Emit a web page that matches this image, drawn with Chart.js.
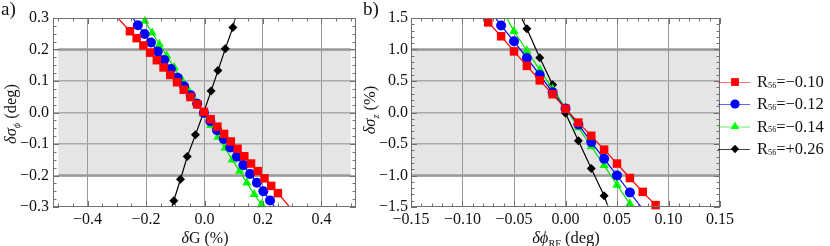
<!DOCTYPE html>
<html><head><meta charset="utf-8">
<script src="https://cdn.jsdelivr.net/npm/chart.js@4.4.1/dist/chart.umd.min.js"></script>
<style>
html,body{margin:0;padding:0;background:#fff;width:830px;height:246px;overflow:hidden;}
#ca{position:absolute;left:0;top:0;}
#cb{position:absolute;left:362px;top:0;}
</style></head><body>
<canvas id="ca" width="362" height="246"></canvas>
<canvas id="cb" width="468" height="246"></canvas>
<script>
// ---------------- DATA ----------------
const seriesNames = ['R₅₆=−0.10', 'R₅₆=−0.12', 'R₅₆=−0.14', 'R₅₆=+0.26'];
const legendValues = ['=−0.10', '=−0.12', '=−0.14', '=+0.26'];

// Panel a) δG (%) vs δσϕ (deg)
const aRedX   = [-0.255,-0.232,-0.209,-0.186,-0.163,-0.140,-0.117,-0.094,-0.071,-0.048,-0.025,-0.002,0.021,0.044,0.067,0.090,0.113,0.136,0.159,0.182,0.205,0.228,0.251];
const aRedY   = [0.258,0.236,0.213,0.190,0.166,0.143,0.119,0.096,0.072,0.049,0.026,0.002,-0.021,-0.045,-0.068,-0.092,-0.115,-0.139,-0.162,-0.186,-0.209,-0.233,-0.256];
const aBlueX  = [-0.228,-0.205,-0.183,-0.160,-0.138,-0.115,-0.092,-0.070,-0.047,-0.025,-0.002,0.020,0.043,0.066,0.088,0.111,0.133,0.156,0.179,0.201,0.224];
const aBlueY  = [0.277,0.249,0.222,0.194,0.167,0.138,0.110,0.083,0.055,0.028,-0.001,-0.028,-0.056,-0.084,-0.111,-0.140,-0.167,-0.195,-0.223,-0.250,-0.279];
const aGreenX = [-0.204,-0.179,-0.154,-0.129,-0.104,-0.079,-0.054,-0.029,-0.004,0.021,0.046,0.070,0.095,0.120,0.145,0.170,0.195];
const aGreenY = [0.290,0.253,0.216,0.180,0.143,0.106,0.069,0.033,-0.004,-0.041,-0.078,-0.113,-0.150,-0.186,-0.223,-0.260,-0.292];
const aBlackX = [-0.105,-0.082,-0.059,-0.031,-0.003,0.0225,0.046,0.071,0.097];
const aBlackY = [-0.280,-0.212,-0.140,-0.071,0.000,0.068,0.133,0.202,0.270];
// curve end points (at the frame edges) for each series
const aRedEnds   = [[-0.296, 0.3], [0.291, -0.3]];
const aBlueEnds  = [[-0.245, 0.3], [0.240, -0.3]];
const aGreenEnds = [[-0.211, 0.3], [0.201, -0.3]];
const aBlackEnds = [[-0.112, -0.3], [0.105, 0.3]];
const aBand = [-0.5, 0.5, -0.2, 0.2];
const aXTicks = [-0.4, -0.2, 0, 0.2, 0.4];
const aXLabels = ['−0.4', '−0.2', '0.0', '0.2', '0.4'];
const aYTicks = [-0.3, -0.2, -0.1, 0, 0.1, 0.2, 0.3];
const aYLabels = ['−0.3', '−0.2', '−0.1', '0.0', '0.1', '0.2', '0.3'];
const aXRange = [-0.518, 0.518];
const aYRange = [-0.3, 0.3];

// Panel b) δϕRF (deg) vs δσz (%)
const bRedX   = [-0.075,-0.0625,-0.05,-0.0375,-0.025,-0.0125,0,0.0125,0.025,0.0375,0.05,0.0625,0.075,0.0875];
const bRedY   = [1.43,1.21,0.97,0.74,0.51,0.29,0.06,-0.16,-0.37,-0.59,-0.81,-1.04,-1.26,-1.47];
const bBlueX  = [-0.0625,-0.05,-0.0375,-0.025,-0.0125,0,0.0125,0.025,0.0375,0.05,0.0625];
const bBlueY  = [1.38,1.13,0.866,0.594,0.32,0.065,-0.19,-0.47,-0.735,-1.0,-1.27];
const bGreenX = [-0.05,-0.0375,-0.025,-0.0125,0,0.0125,0.025,0.0375,0.05,0.0625];
const bGreenY = [1.29,0.98,0.68,0.37,0.07,-0.24,-0.54,-0.84,-1.15,-1.45];
const bBlackX = [-0.0375,-0.025,-0.0125,0,0.0125,0.025,0.0375];
const bBlackY = [1.33,0.87,0.44,-0.01,-0.45,-0.89,-1.32];
const bRedEnds   = [[-0.079, 1.5], [0.089, -1.5]];
const bBlueEnds  = [[-0.068, 1.5], [0.0735, -1.5]];
const bGreenEnds = [[-0.057, 1.5], [0.0645, -1.5]];
const bBlackEnds = [[-0.0427, 1.5], [0.0414, -1.5]];
const bBand = [-0.15, 0.15, -1.0, 1.0];
const bXTicks = [-0.15, -0.10, -0.05, 0, 0.05, 0.10, 0.15];
const bXLabels = ['−0.15', '−0.10', '−0.05', '0.00', '0.05', '0.10', '0.15'];
const bYTicks = [-1.5, -1.0, -0.5, 0, 0.5, 1.0, 1.5];
const bYLabels = ['−1.5', '−1.0', '−0.5', '0.0', '0.5', '1.0', '1.5'];
const bXRange = [-0.15, 0.15];
const bYRange = [-1.5, 1.5];

// ---------------- STYLE ----------------
const FONT = "'Liberation Serif','Times New Roman',serif";
const TXT = '#111';
const styles = [
  {color: '#ff0000', line: '#ff0000', legendLine: 'rgba(255,0,0,0.55)', pointStyle: 'rect', radius: 6.0},
  {color: '#0000ff', line: '#0000ff', legendLine: 'rgba(0,0,255,0.6)', pointStyle: 'circle', radius: 5.0},
  {color: '#00ff00', line: '#00e000', legendLine: 'rgba(0,220,0,0.6)', pointStyle: 'triangle', radius: 5.4},
  {color: '#000000', line: '#000000', legendLine: 'rgba(0,0,0,0.75)', pointStyle: 'rectRot', radius: 4.5}
];

function pts(xs, ys) { return xs.map((x, i) => ({x: x, y: ys[i]})); }
function curve(xs, ys, ends) {
  const p = pts(xs, ys).concat(ends.map(e => ({x: e[0], y: e[1]})));
  p.sort((a, b) => a.x - b.x);
  return p;
}

function makeDatasets(list) {
  const ds = [];
  list.forEach((s, k) => {
    const st = styles[k];
    ds.push({type: 'line', label: seriesNames[k] + ' curve', data: curve(s[0], s[1], s[2]),
      borderColor: st.line, borderWidth: 1.2, pointRadius: 0, showLine: true, fill: false, clip: 0, order: 0});
    ds.push({type: 'scatter', label: seriesNames[k], data: pts(s[0], s[1]),
      backgroundColor: st.color, borderColor: st.color, borderWidth: 0, pointStyle: st.pointStyle,
      pointRadius: st.radius, pointHoverRadius: st.radius, showLine: false, clip: 4, order: 0});
  });
  return ds;
}

function drawRich(ctx, segs, x, y, size, rotate, align) {
  ctx.save();
  ctx.translate(x, y);
  if (rotate) ctx.rotate(-Math.PI / 2);
  const parts = segs.map(s => {
    const sz = s.sub ? size * (s.scale || 0.62) : size;
    const f = (s.i ? 'italic ' : '') + sz + 'px ' + FONT;
    ctx.font = f;
    return {t: s.t, f: f, w: ctx.measureText(s.t).width, dy: s.sub ? size * (s.dy !== undefined ? s.dy : 0.22) : 0};
  });
  const total = parts.reduce((a, p) => a + p.w, 0);
  let cx = align === 'left' ? 0 : -total / 2;
  ctx.fillStyle = TXT;
  ctx.textBaseline = 'alphabetic';
  const base = size * 0.33;
  parts.forEach(p => { ctx.font = p.f; ctx.fillText(p.t, cx, base + p.dy); cx += p.w; });
  ctx.restore();
}

function bandPlugin(band) {
  return {
    id: 'band',
    beforeDraw(chart) {
      const {ctx, chartArea: ca, scales: {x, y}} = chart;
      const x0 = Math.max(ca.left, x.getPixelForValue(band[0]));
      const x1 = Math.min(ca.right, x.getPixelForValue(band[1]));
      const y0 = y.getPixelForValue(band[3]);
      const y1 = y.getPixelForValue(band[2]);
      ctx.save();
      ctx.fillStyle = '#e5e5e5';
      ctx.fillRect(x0, y0, x1 - x0, y1 - y0);
      ctx.restore();
    },
    beforeDatasetsDraw(chart) {
      const {ctx, chartArea: ca, scales: {x, y}} = chart;
      const x0 = Math.max(ca.left, x.getPixelForValue(band[0]));
      const x1 = Math.min(ca.right, x.getPixelForValue(band[1]));
      ctx.save();
      ctx.strokeStyle = '#9a9a9a';
      ctx.lineWidth = 2.4;
      [band[2], band[3]].forEach(v => {
        const py = y.getPixelForValue(v);
        ctx.beginPath(); ctx.moveTo(x0, py); ctx.lineTo(x1, py); ctx.stroke();
      });
      ctx.restore();
    }
  };
}

function framePlugin(xMajor, yMajor, xMinorStep, yMinorStep) {
  return {
    id: 'frame',
    afterDatasetsDraw(chart) {
      const {ctx, chartArea: ca, scales: {x, y}} = chart;
      ctx.save();
      ctx.strokeStyle = '#707070';
      ctx.lineWidth = 1;
      ctx.strokeRect(ca.left + 0.5, ca.top + 0.5, ca.right - ca.left - 1, ca.bottom - ca.top - 1);
      const isMajor = (arr, v) => arr.some(m => Math.abs(m - v) < 1e-7);
      ctx.beginPath();
      for (let k = Math.ceil(x.min / xMinorStep - 1e-6); k * xMinorStep <= x.max + 1e-9; k++) {
        const v = k * xMinorStep;
        const px = Math.round(x.getPixelForValue(v)) + 0.5;
        const len = isMajor(xMajor, v) ? 6 : 3.5;
        ctx.moveTo(px, ca.bottom); ctx.lineTo(px, ca.bottom - len);
        ctx.moveTo(px, ca.top); ctx.lineTo(px, ca.top + len);
      }
      for (let k = Math.ceil(y.min / yMinorStep - 1e-6); k * yMinorStep <= y.max + 1e-9; k++) {
        const v = k * yMinorStep;
        const py = Math.round(y.getPixelForValue(v)) + 0.5;
        const len = isMajor(yMajor, v) ? 6 : 3.5;
        ctx.moveTo(ca.left, py); ctx.lineTo(ca.left + len, py);
        ctx.moveTo(ca.right, py); ctx.lineTo(ca.right - len, py);
      }
      ctx.stroke();
      ctx.restore();
    }
  };
}

function textPlugin(items) {
  return {
    id: 'texts',
    afterDraw(chart) {
      const ctx = chart.ctx;
      items.forEach(it => drawRich(ctx, it.segs, it.x, it.y, it.size, it.rot, it.align));
    }
  };
}

const legendPlugin = {
  id: 'rlegend',
  afterDraw(chart) {
    const ctx = chart.ctx;
    const x0 = 718 - 362, x1 = 750 - 362, xm = 735 - 362, xt = 757 - 362;
    const rowY = [82, 104, 126.5, 149];
    styles.forEach((st, k) => {
      const yy = rowY[k];
      ctx.save();
      ctx.strokeStyle = st.legendLine;
      ctx.lineWidth = 1;
      ctx.beginPath(); ctx.moveTo(x0, yy + 0.5); ctx.lineTo(x1, yy + 0.5); ctx.stroke();
      ctx.fillStyle = st.color;
      ctx.strokeStyle = st.color;
      Chart.helpers.drawPoint(ctx, {pointStyle: st.pointStyle, radius: st.radius * 0.92, rotation: 0, borderWidth: 0}, xm, yy);
      ctx.restore();
      drawRich(ctx, [{t: 'R'}, {t: '56', sub: 1, scale: 0.5, dy: 0.02}, {t: legendValues[k]}], xt, yy, 16.5, false, 'left');
    });
  }
};

function axisOpts(range, ticks, labels, isX, size, pad) {
  return {
    type: 'linear', min: range[0], max: range[1],
    border: {display: false},
    grid: {
      drawTicks: false,
      color: c => {
        const v = c.tick ? c.tick.value : 0;
        if (Math.abs(v - range[0]) < 1e-9 || Math.abs(v - range[1]) < 1e-9) return 'rgba(0,0,0,0)';
        return isX ? '#9a9a9a' : '#ababab';
      },
      lineWidth: isX ? 1 : 1.6
    },
    afterBuildTicks: s => { s.ticks = ticks.map(v => ({value: v})); },
    afterFit: s => { if (isX) s.height = size; else s.width = size; },
    ticks: {
      autoSkip: false, maxRotation: 0, minRotation: 0, padding: pad,
      color: TXT, font: {family: FONT, size: 16},
      callback: (v, i) => labels[i]
    }
  };
}

Chart.defaults.animation = false;

new Chart(document.getElementById('ca'), {
  type: 'scatter',
  data: {datasets: makeDatasets([
    [aRedX, aRedY, aRedEnds], [aBlueX, aBlueY, aBlueEnds], [aGreenX, aGreenY, aGreenEnds], [aBlackX, aBlackY, aBlackEnds]
  ])},
  options: {
    responsive: false, animation: false, events: [],
    layout: {padding: {top: 18, right: 4, left: 0, bottom: 0}},
    plugins: {legend: {display: false}, tooltip: {enabled: false}},
    scales: {
      x: axisOpts(aXRange, aXTicks, aXLabels, true, 39, 3),
      y: axisOpts(aYRange, aYTicks, aYLabels, false, 53, 4)
    }
  },
  plugins: [bandPlugin(aBand), framePlugin(aXTicks, aYTicks, 0.05, 0.025), textPlugin([
    {segs: [{t: 'a)'}], x: 1, y: 9, size: 19, align: 'left'},
    {segs: [{t: 'δ', i: 1}, {t: 'G (%)'}], x: 205, y: 238, size: 16},
    {segs: [{t: 'δσ', i: 1}, {t: 'ϕ', i: 1, sub: 1}, {t: ' (deg)'}], x: 11, y: 114, size: 16.5, rot: true}
  ])]
});

new Chart(document.getElementById('cb'), {
  type: 'scatter',
  data: {datasets: makeDatasets([
    [bRedX, bRedY, bRedEnds], [bBlueX, bBlueY, bBlueEnds], [bGreenX, bGreenY, bGreenEnds], [bBlackX, bBlackY, bBlackEnds]
  ])},
  options: {
    responsive: false, animation: false, events: [],
    layout: {padding: {top: 18, right: 110, left: 0, bottom: 0}},
    plugins: {legend: {display: false}, tooltip: {enabled: false}},
    scales: {
      x: axisOpts(bXRange, bXTicks, bXLabels, true, 39, 3),
      y: axisOpts(bYRange, bYTicks, bYLabels, false, 49, 3)
    }
  },
  plugins: [bandPlugin(bBand), framePlugin(bXTicks, bYTicks, 0.01, 0.1), legendPlugin, textPlugin([
    {segs: [{t: 'b)'}], x: 1, y: 9, size: 19, align: 'left'},
    {segs: [{t: 'δϕ', i: 1}, {t: 'RF', sub: 1}, {t: ' (deg)'}], x: 204, y: 238, size: 16.5},
    {segs: [{t: 'δσ', i: 1}, {t: 'z', i: 1, sub: 1}, {t: ' (%)'}], x: 8, y: 110, size: 16.5, rot: true}
  ])]
});
</script>
</body></html>
